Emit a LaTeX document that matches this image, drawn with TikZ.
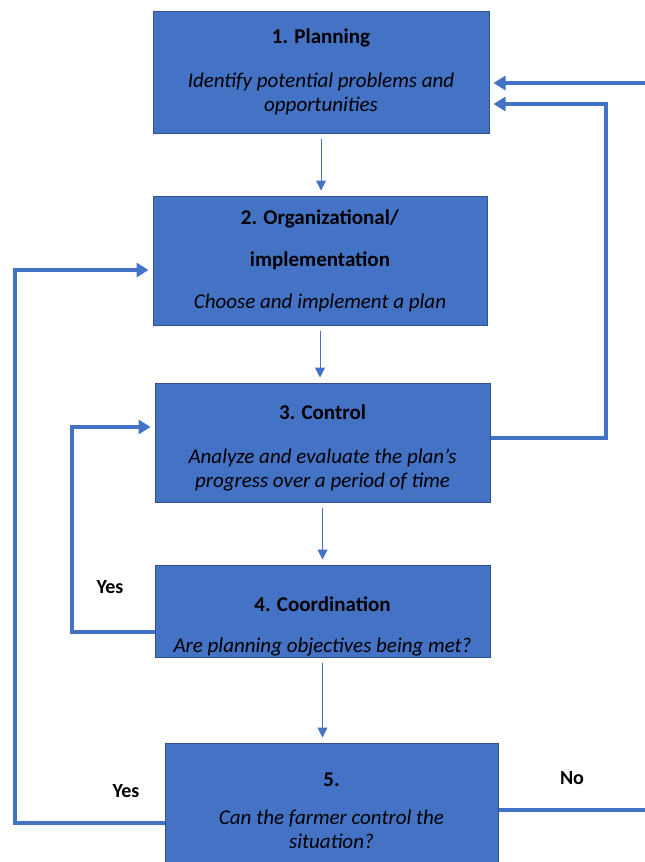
\documentclass[tikz,border=0pt]{standalone}
\usepackage{fontspec}
\setmainfont{Carlito}
\usetikzlibrary{arrows.meta}

\definecolor{boxblue}{HTML}{4472C4}
\definecolor{edgeblue}{HTML}{2F528F}

\tikzstyle{stage}=[rectangle, draw=edgeblue, line width=1pt, fill=boxblue, align=center, inner sep=0pt, font=\fontsize{21}{24}\selectfont]
\tikzstyle{flow}=[draw=boxblue, line width=1pt, -{Triangle[width=10pt, length=10pt]}, shorten <=5pt, shorten >=5pt]
\tikzstyle{back}=[draw=boxblue, line width=4pt, -{Triangle[width=14pt, length=12pt]}, shorten >=4pt]
\tikzstyle{answer}=[font=\bfseries\fontsize{20}{24}\selectfont]

\begin{document}
\begin{tikzpicture}[x=1pt, y=1pt]
      \useasboundingbox (0,0) rectangle (645,-862);

      \node[stage, minimum width=336pt, minimum height=122pt] (plan)     at (321,-72)
            {\textbf{1. Planning}\\[20pt]\textit{Identify potential problems and}\\\textit{opportunities}};
      \node[stage, minimum width=334pt, minimum height=129pt] (organize) at (320,-260.5)
            {\textbf{2. Organizational/}\\[18pt]\textbf{implementation}\\[18pt]\textit{Choose and implement a plan}};
      \node[stage, minimum width=335pt, minimum height=119pt] (control)  at (322.5,-442.5)
            {\mbox{}\\[1pt]\textbf{3. Control}\\[20pt]\textit{Analyze and evaluate the plan’s}\\\textit{progress over a period of time}};
      \node[stage, minimum width=335pt, minimum height=92pt]  (coord)    at (322.5,-611)
            {\mbox{}\\[22pt]\textbf{4. Coordination}\\[17pt]\textit{Are planning objectives being met?}};
      \node[stage, minimum width=333pt, minimum height=135pt] (decide)   at (331.5,-810.5)
            {\textbf{5.}\\[14pt]\textit{Can the farmer control the}\\\textit{situation?}};

      \draw[flow] (plan.south)     -- (plan.south |- organize.north);
      \draw[flow] (organize.south) -- (organize.south |- control.north);
      \draw[flow] (control.south)  -- (control.south |- coord.north);
      \draw[flow] (coord.south)    -- (coord.south |- decide.north);

      \draw[back] ([yshift=-12.5pt]decide.west) -- ++(-150,0) |- ([yshift=-9.5pt]organize.west);
      \draw[back] ([yshift=-21pt]coord.west)    -- ++(-83,0)  |- ([yshift=15.5pt]control.west);
      \draw[back] ([yshift=4.5pt]control.east)  -- ++(115,0)  |- ([yshift=-32pt]plan.east);

      \coordinate (edgetop)    at (645,-83);
      \coordinate (edgebottom) at (645,-810);
      \draw[back] (edgetop) -- ([yshift=-11pt]plan.east);
      \draw[draw=boxblue, line width=4pt] ([yshift=0.5pt]decide.east) -- (edgebottom);

      \node[answer] (yesinner) at (110,-587) {Yes};
      \node[answer] (yesouter) at (126,-791) {Yes};
      \node[answer] (no)       at (572,-778) {No};
    \end{tikzpicture}
\end{document}
